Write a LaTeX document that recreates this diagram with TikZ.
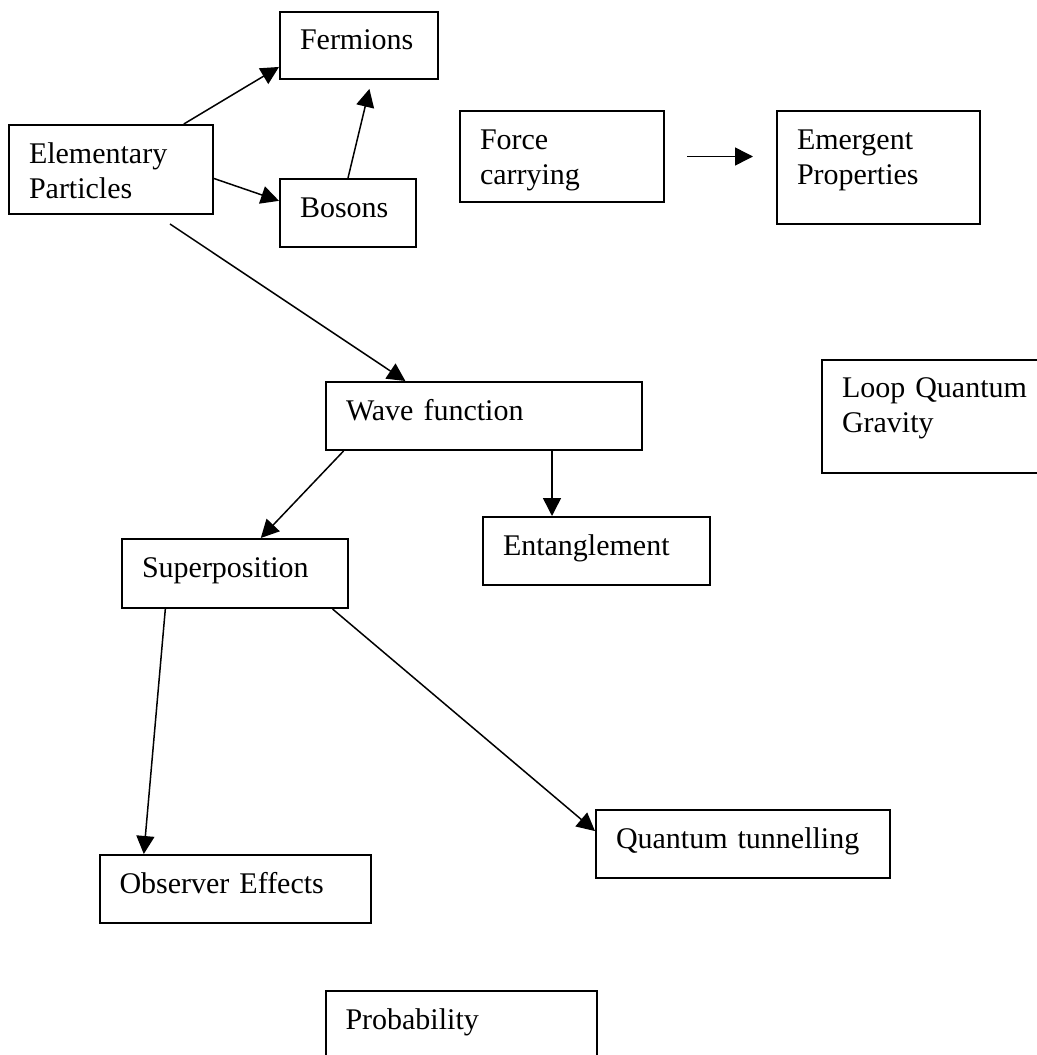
\documentclass[tikz,border=0pt]{standalone}
\usepackage{fontspec}
\setmainfont{Liberation Serif}
\usetikzlibrary{positioning, arrows.meta}
\tikzset{
    concept/.style={rectangle, draw=black, line width=1pt, align=left, inner xsep=10pt, inner ysep=0pt, text height=19pt, text depth=15pt, font=\fontsize{15}{17.5}\selectfont},
    arrow/.style={line width=0.75pt, ->, >={Triangle[length=9pt, width=9pt]}}
}

\begin{document}
\begin{tikzpicture}[on grid]

    \path [use as bounding box, fill=white] (-55.5pt,84.75pt) rectangle (463pt,-442.75pt);

    \node (elem) [concept, text width=82pt, text depth=25.5pt] {Elementary\\Particles};
    \node (ferm) [concept, text width=59pt, text depth=14.5pt, above right=62pt and 124pt of elem] {Fermions};
    \node (bos) [concept, text width=48pt, below right=21.75pt and 118.5pt of elem] {Bosons};
    \node (force) [concept, text width=82pt, text depth=26.5pt, above right=6.5pt and 225.5pt of elem] {Force\\carrying};
    \node (emerg) [concept, text width=81.5pt, text depth=37.5pt, below right=5.5pt and 158.25pt of force] {Emergent\\Properties};
    \node (wave) [concept, text width=138pt, below right=123.25pt and 186.5pt of elem] {Wave function};
    \node (loop) [concept, text width=92.5pt, text depth=37.5pt, right=225.25pt of wave] {Loop Quantum\\Gravity};
    \node (ent) [concept, text width=93.5pt, below right=67.5pt and 56.25pt of wave] {Entanglement};
    \node (sup) [concept, text width=93pt, text depth=15.5pt, below left=78.75pt and 124.5pt of wave] {Superposition};
    \node (obs) [concept, text width=115.5pt, below=157.75pt of sup] {Observer Effects};
    \node (quant) [concept, text width=127pt, below right=135.25pt and 254pt of sup] {Quantum tunnelling};
    \node (prob) [concept, text width=115.5pt, below right=68pt and 113pt of obs] {Probability};

    \coordinate (entin) at ([xshift=-22.25pt]ent.north);

    \draw [arrow] (elem.32.3) -- (ferm.195.2);
    \draw [arrow] (elem.-5.3) -- (bos.170.8);
    \draw [arrow, shorten >=4.6pt] (bos.north) -- (ferm.-70.3);
    \draw [arrow, shorten <=11pt, shorten >=11.5pt] (force.east) -- (force.east -| emerg.west);
    \draw [arrow, shorten <=8.1pt] (elem.-45.6) -- (wave.156.7);
    \draw [arrow] (wave.194) -- (sup.54.1);
    \draw [arrow] (wave.south -| entin) -- (entin);
    \draw [arrow] (sup.207.2) -- (obs.159.2);
    \draw [arrow] (sup.-20.6) -- (quant.175.3);

\end{tikzpicture}
\end{document}
